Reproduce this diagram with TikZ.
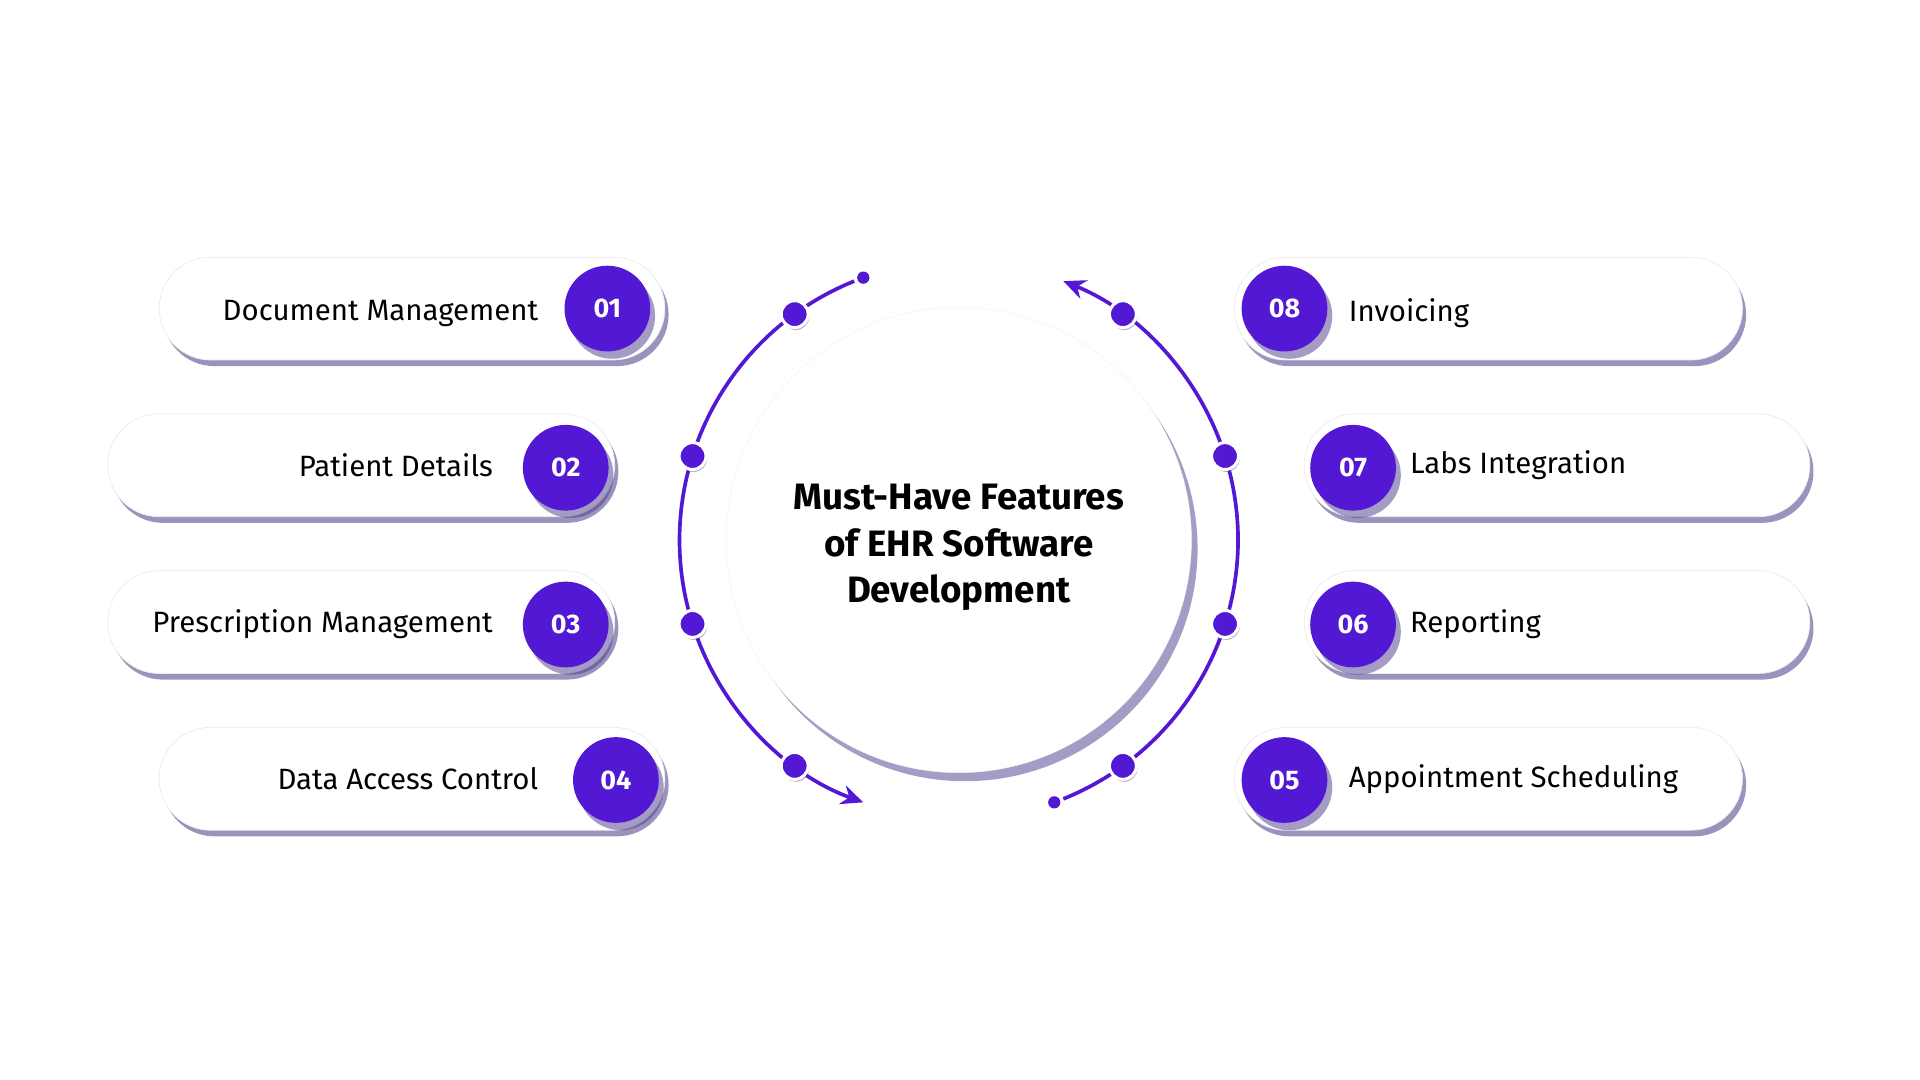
\documentclass[tikz,border=0pt]{standalone}
\usepackage{fontspec}
\setmainfont{Fira Sans}
\usetikzlibrary{shadows,arrows.meta}
\definecolor{pur}{HTML}{5218D4}
\definecolor{shd}{HTML}{4A3A8A}
\tikzset{
 pill/.style={draw=gray!15,line width=0.6pt,fill=white,rounded corners=42pt,minimum height=84pt,
   drop shadow={shadow xshift=3pt,shadow yshift=-5pt,fill=shd,opacity=0.55}},
 num/.style={circle,fill=pur,minimum size=70pt,text=white,font=\fontsize{22}{24}\selectfont\bfseries,
   drop shadow={shadow xshift=4pt,shadow yshift=-6pt,fill=shd,opacity=0.5}},
 lab/.style={font=\fontsize{24}{28}\selectfont,text=black},
 ring/.style={draw=pur,line width=3pt},
 rdot/.style={circle,fill=pur,draw=white,line width=2.5pt,minimum size=22pt,inner sep=0pt,
   drop shadow={shadow xshift=1pt,shadow yshift=-2pt,fill=shd,opacity=0.4}},
 sdot/.style={circle,fill=pur,minimum size=10pt,inner sep=0pt}
}
\begin{document}
\begin{tikzpicture}[x=1pt,y=-1pt]
\path[use as bounding box,fill=white] (0,0) rectangle (1568,882);
% pills left
\node[pill,minimum width=413pt] (p1) at (336.5,252) {};
\node[pill,minimum width=414pt] (p2) at (295,380) {};
\node[pill,minimum width=414pt] (p3) at (295,508) {};
\node[pill,minimum width=413pt] (p4) at (336.5,636) {};
% pills right
\node[pill,minimum width=415pt] (p8) at (1215.5,252) {};
\node[pill,minimum width=413pt] (p7) at (1271.5,380) {};
\node[pill,minimum width=413pt] (p6) at (1271.5,508) {};
\node[pill,minimum width=415pt] (p5) at (1215.5,636) {};
% numbers
\node[num] (n1) at (496,252) {01};
\node[num] (n2) at (462,382) {02};
\node[num] (n3) at (462,510) {03};
\node[num] (n4) at (503,637) {04};
\node[num] (n8) at (1049,252) {08};
\node[num] (n7) at (1105,382) {07};
\node[num] (n6) at (1105,510) {06};
\node[num] (n5) at (1049,637) {05};
% labels
\node[lab,anchor=east] (l1) at (443,256) {Document Management};
\node[lab,anchor=east] (l2) at (406,380) {Patient Details};
\node[lab,anchor=east] (l3) at (406,510) {Prescription Management};
\node[lab,anchor=east] (l4) at (443,636) {Data Access Control};
\node[lab,anchor=west] (l8) at (1098,256) {Invoicing};
\node[lab,anchor=west] (l7) at (1148,380) {Labs Integration};
\node[lab,anchor=west] (l6) at (1148,510) {Reporting};
\node[lab,anchor=west] (l5) at (1098,636) {Appointment Scheduling};
% center
\node[circle,fill=white,draw=gray!10,minimum size=380pt,
  drop shadow={shadow xshift=5pt,shadow yshift=-7pt,fill=shd,opacity=0.5}] (c) at (783,441) {};
\node[align=center,font=\fontsize{30}{38}\selectfont\bfseries] (t) at (783,447)
 {Must-Have Features\\of EHR Software\\Development};
% rings
\coordinate (o) at (783,441);
\draw[ring,-{Stealth[length=18pt,width=16pt]}] ([shift={(-112:228)}]o) arc[start angle=-112,end angle=-250,radius=228];
\node[sdot] (s1) at ([shift={(-110:228)}]o) {};
\draw[ring,-{Stealth[length=18pt,width=16pt]}] ([shift={(68:228)}]o) arc[start angle=68,end angle=-68,radius=228];
\node[sdot] (s2) at ([shift={(70:228)}]o) {};
\foreach \a/\n in {126/a,162.5/b,197.5/c,234/d,54/e,17.5/f,-17.5/g,-54/h}
  \node[rdot] (d\n) at ([shift={(\a:-228)}]o) {};
\end{tikzpicture}
\end{document}
